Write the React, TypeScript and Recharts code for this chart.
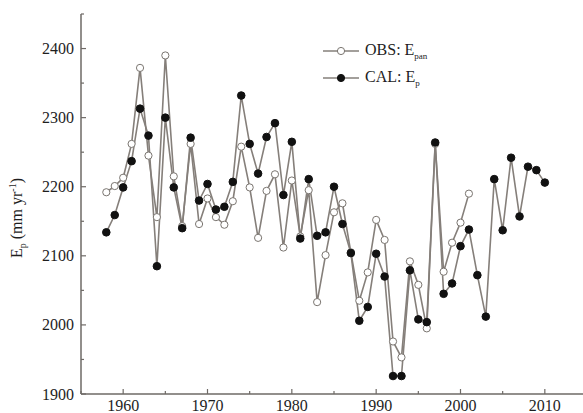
import React from 'react';
import { LineChart, Line, XAxis, YAxis, Legend } from 'recharts';

const years = [
  1958, 1959, 1960, 1961, 1962, 1963, 1964, 1965, 1966, 1967,
  1968, 1969, 1970, 1971, 1972, 1973, 1974, 1975, 1976, 1977,
  1978, 1979, 1980, 1981, 1982, 1983, 1984, 1985, 1986, 1987,
  1988, 1989, 1990, 1991, 1992, 1993, 1994, 1995, 1996, 1997,
  1998, 1999, 2000, 2001, 2002, 2003, 2004, 2005, 2006, 2007,
  2008, 2009, 2010,
];

// OBS: E_pan (1958-2001)
const obsValues = [
  2192, 2201, 2213, 2262, 2372, 2245, 2156, 2390, 2215, 2143,
  2262, 2146, 2183, 2156, 2145, 2179, 2258, 2199, 2126, 2194,
  2218, 2112, 2209, 2128, 2195, 2033, 2101, 2163, 2176, 2105,
  2035, 2076, 2152, 2123, 1976, 1953, 2092, 2058, 1995, 2262,
  2077, 2119, 2148, 2190,
];

// CAL: E_p (1958-2010)
const calValues = [
  2134, 2159, 2199, 2237, 2313, 2274, 2085, 2300, 2199, 2140,
  2271, 2180, 2204, 2167, 2171, 2207, 2332, 2262, 2219, 2272,
  2292, 2188, 2265, 2125, 2211, 2129, 2134, 2200, 2146, 2104,
  2006, 2026, 2103, 2070, 1926, 1926, 2079, 2008, 2004, 2264,
  2045, 2060, 2114, 2138, 2072, 2012, 2211, 2137, 2242, 2157,
  2229, 2224, 2206,
];

const xTicks = [1955, 1960, 1965, 1970, 1975, 1980, 1985, 1990, 1995, 2000, 2005, 2010, 2015];
const xLabels = [1960, 1970, 1980, 1990, 2000, 2010];
const yTicks = [1900, 1950, 2000, 2050, 2100, 2150, 2200, 2250, 2300, 2350, 2400, 2450];
const yLabels = [1900, 2000, 2100, 2200, 2300, 2400];

const data = years.map((year, i) => ({
  year,
  obs: i < obsValues.length ? obsValues[i] : null,
  cal: calValues[i],
}));

const LINE = '#857f7a';
const AXIS = '#6e6a66';
const TEXT = '#1e1e1e';
const FONT = '"Liberation Serif", "Times New Roman", serif';
const TICK_MARGIN_X = 9;
const TICK_MARGIN_Y = 6;

const XTick = (props: any) => {
  const { x, y, payload } = props;
  const v = payload.value;
  const major = xLabels.includes(v);
  const axisY = y - TICK_MARGIN_X;
  return (
    <g>
      <line x1={x} x2={x} y1={axisY} y2={axisY - (major ? 5 : 3)} stroke={AXIS} strokeWidth={1.2} />
      {major && (
        <text x={x} y={axisY + 16.5} textAnchor="middle" fontFamily={FONT} fontSize={16} fill={TEXT}>
          {v}
        </text>
      )}
    </g>
  );
};

const YTick = (props: any) => {
  const { x, y, payload } = props;
  const v = payload.value;
  const major = yLabels.includes(v);
  const axisX = x + TICK_MARGIN_Y;
  return (
    <g>
      <line x1={axisX} x2={axisX + (major ? 5 : 3)} y1={y} y2={y} stroke={AXIS} strokeWidth={1.2} />
      {major && (
        <text x={x - 1} y={y + 5.5} textAnchor="end" fontFamily={FONT} fontSize={16} fill={TEXT}>
          {v}
        </text>
      )}
    </g>
  );
};

const YLabel = () => (
  <text
    transform="translate(22, 218) rotate(-90)"
    textAnchor="middle"
    fontFamily={FONT}
    fontSize={16}
    fill={TEXT}
  >
    <tspan>E</tspan>
    <tspan fontSize={10} dy={4}>p</tspan>
    <tspan dy={-4}> (mm yr</tspan>
    <tspan fontSize={10} dy={-6}>-1</tspan>
    <tspan dy={6}>)</tspan>
  </text>
);

const LegendContent = () => {
  const row = (filled: boolean, label: string, sub: string) => (
    <div style={{ display: 'flex', alignItems: 'center', height: 27 }}>
      <svg width={38} height={12} style={{ display: 'block' }}>
        <line x1={0} x2={36} y1={6} y2={6} stroke={LINE} strokeWidth={1.6} />
        <circle
          cx={18}
          cy={6}
          r={3.6}
          fill={filled ? '#111' : '#fff'}
          stroke={filled ? '#111' : '#7a7570'}
          strokeWidth={1}
        />
      </svg>
      <span style={{ fontFamily: FONT, fontSize: 16, color: TEXT, marginLeft: 4, lineHeight: '16px' }}>
        {label}
        <span style={{ fontSize: 9, color: TEXT, position: 'relative', top: 4 }}>{sub}</span>
      </span>
    </div>
  );
  return (
    <div>
      {row(false, 'OBS: E', 'pan')}
      {row(true, 'CAL: E', 'p')}
    </div>
  );
};

export default function App() {
  return (
    <div
      style={{
        position: 'absolute',
        left: 0,
        top: 0,
        width: 583,
        height: 413,
        overflow: 'hidden',
        background: '#fff',
      }}
    >
      <LineChart
        width={600}
        height={430}
        data={data}
        margin={{ top: 14, right: 13, bottom: 0, left: 0 }}
      >
        <XAxis
          dataKey="year"
          type="number"
          domain={[1955, 2015]}
          ticks={xTicks}
          interval={0}
          allowDataOverflow
          height={36}
          tickLine={false}
          tickSize={0}
          tickMargin={TICK_MARGIN_X}
          axisLine={{ stroke: AXIS, strokeWidth: 1.5 }}
          tick={<XTick />}
        />
        <XAxis
          xAxisId="top"
          orientation="top"
          dataKey="year"
          type="number"
          domain={[1955, 2015]}
          height={0}
          tick={false}
          tickLine={false}
          axisLine={{ stroke: AXIS, strokeWidth: 1.5 }}
        />
        <YAxis
          type="number"
          domain={[1900, 2450]}
          ticks={yTicks}
          interval={0}
          allowDataOverflow
          width={81}
          tickLine={false}
          tickSize={0}
          tickMargin={TICK_MARGIN_Y}
          axisLine={{ stroke: AXIS, strokeWidth: 1.5 }}
          tick={<YTick />}
          label={<YLabel />}
        />
        <YAxis
          yAxisId="right"
          orientation="right"
          type="number"
          domain={[1900, 2450]}
          width={0}
          tick={false}
          tickLine={false}
          axisLine={{ stroke: AXIS, strokeWidth: 1.5 }}
        />
        <Legend
          layout="vertical"
          align="center"
          verticalAlign="middle"
          wrapperStyle={{ left: 323, top: 37, width: 140, height: 60 }}
          content={<LegendContent />}
        />
        <Line
          dataKey="obs"
          type="linear"
          stroke={LINE}
          strokeWidth={1.6}
          isAnimationActive={false}
          connectNulls={false}
          dot={{ r: 3.6, fill: '#fff', stroke: '#7a7570', strokeWidth: 1 }}
          activeDot={false}
        />
        <Line
          dataKey="cal"
          type="linear"
          stroke={LINE}
          strokeWidth={1.6}
          isAnimationActive={false}
          dot={{ r: 3.8, fill: '#111', stroke: '#111', strokeWidth: 1 }}
          activeDot={false}
        />
      </LineChart>
    </div>
  );
}
